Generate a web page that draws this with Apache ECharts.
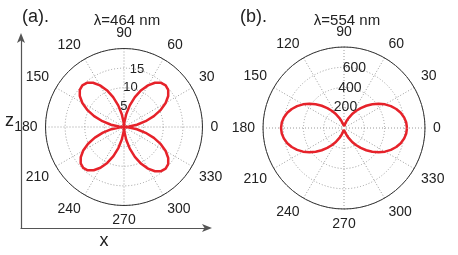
<!DOCTYPE html>
<html>
<head>
<meta charset="utf-8">
<script src="https://cdn.jsdelivr.net/npm/echarts@6/dist/echarts.min.js"></script>
<style>
  html, body { margin: 0; padding: 0; background: #fff; }
  #chart { width: 458px; height: 255px; }
</style>
</head>
<body>
<div id="chart"></div>
<script>
// polar angle in degrees, every 5
const angles = [
  0, 5, 10, 15, 20, 25, 30, 35, 40, 45, 50, 55, 60, 65, 70, 75, 80, 85, 90,
  95, 100, 105, 110, 115, 120, 125, 130, 135, 140, 145, 150, 155, 160, 165, 170, 175, 180,
  185, 190, 195, 200, 205, 210, 215, 220, 225, 230, 235, 240, 245, 250, 255, 260, 265, 270,
  275, 280, 285, 290, 295, 300, 305, 310, 315, 320, 325, 330, 335, 340, 345, 350, 355, 360
]
// (a) lambda = 464 nm, four lobes
const lobes464 = [
  0, 1.3, 3.35, 5.7, 8.1, 10.35, 12.25, 13.75, 14.7, 15, 14.7, 13.75, 12.25, 10.35, 8.1, 5.7, 3.35, 1.3, 0,
  1.3, 3.35, 5.7, 8.1, 10.35, 12.25, 13.75, 14.7, 15, 14.7, 13.75, 12.25, 10.35, 8.1, 5.7, 3.35, 1.3, 0,
  1.25, 3.25, 5.55, 7.9, 10.1, 12, 13.45, 14.4, 14.7, 14.4, 13.45, 12, 10.1, 7.9, 5.55, 3.25, 1.25, 0,
  1.3, 3.35, 5.7, 8.1, 10.35, 12.25, 13.75, 14.7, 15, 14.7, 13.75, 12.25, 10.35, 8.1, 5.7, 3.35, 1.3, 0
]
// (b) lambda = 554 nm, two lobes
const lobes554 = [
  622, 617, 603, 580, 549, 511, 467, 417, 365, 311, 257, 205, 156, 111, 73, 42, 19, 5, 0,
  5, 19, 42, 73, 111, 156, 205, 257, 311, 365, 417, 467, 511, 549, 580, 603, 617, 622,
  617, 603, 580, 549, 511, 467, 417, 365, 311, 257, 205, 156, 111, 73, 42, 19, 5, 0,
  5, 19, 42, 73, 111, 156, 205, 257, 311, 365, 417, 467, 511, 549, 580, 603, 617, 622
]
const radiusMaxA = 20
const radiusStepA = 5
const radiusMaxB = 800
const radiusStepB = 200

const textColor = '#222'
const gridColor = '#9a9a9a'
const red = '#e6222a'

function mainAngle(polarIndex) {
  return {
    polarIndex: polarIndex,
    type: 'value',
    min: 0,
    max: 360,
    interval: 30,
    startAngle: 0,
    clockwise: false,
    axisLine: { lineStyle: { color: '#333', width: 1 } },
    axisTick: { show: false },
    axisLabel: {
      margin: 8,
      align: 'center',
      verticalAlign: 'middle',
      fontSize: 14,
      color: textColor,
      formatter: v => (v === 360 ? '' : String(v)),
    },
    splitLine: { lineStyle: { color: gridColor, type: [1, 2], width: 1 } },
  }
}
function mainRadius(polarIndex, max, step) {
  return {
    polarIndex: polarIndex,
    type: 'value',
    min: 0,
    max: max,
    interval: step,
    axisLine: { show: false },
    axisTick: { show: false },
    axisLabel: { show: false },
    splitLine: { lineStyle: { color: gridColor, type: [1, 2], width: 1 } },
  }
}
// extra polar only for the ring labels, turned to a slanted ray
function labelAngle(polarIndex, ang) {
  return { polarIndex: polarIndex, type: 'value', min: 0, max: 360, startAngle: ang, show: false }
}
function labelRadius(polarIndex, max, step, margin, size) {
  return {
    polarIndex: polarIndex,
    type: 'value',
    min: 0,
    max: max,
    interval: step,
    axisLine: { show: false },
    axisTick: { show: false },
    splitLine: { show: false },
    axisLabel: {
      margin: margin,
      align: 'center',
      verticalAlign: 'middle',
      fontSize: size,
      color: textColor,
      formatter: v => (v > 0 && v < max ? String(v) : ''),
    },
  }
}

let myChart = echarts.init(document.getElementById('chart'))
myChart.setOption({
  animation: false,
  textStyle: { fontFamily: 'Liberation Sans' },
  title: [
    { text: '(a).', left: 17, top: 3, textStyle: { fontSize: 18, fontWeight: 'normal', color: textColor } },
    { text: 'λ=464 nm', left: 122, top: 8, textAlign: 'center', textStyle: { fontSize: 15, fontWeight: 'normal', color: textColor } },
    { text: '(b).', left: 235, top: 3, textStyle: { fontSize: 18, fontWeight: 'normal', color: textColor } },
    { text: 'λ=554 nm', left: 342, top: 8, textAlign: 'center', textStyle: { fontSize: 15, fontWeight: 'normal', color: textColor } },
  ],
  grid: { left: 21, top: 37, width: 187, height: 199 },
  xAxis: {
    type: 'value',
    min: 0,
    max: 1,
    axisLine: { onZero: false, symbol: ['none', 'arrow'], symbolSize: [6, 10], symbolOffset: [0, 4], lineStyle: { color: '#555', width: 1.2 } },
    axisTick: { show: false },
    axisLabel: { show: false },
    splitLine: { show: false },
    name: 'x',
    nameLocation: 'middle',
    nameGap: 4,
    nameTextStyle: { fontSize: 18, color: textColor, padding: [0, 21, 0, 0] },
  },
  yAxis: {
    type: 'value',
    min: 0,
    max: 1,
    axisLine: { onZero: false, symbol: ['none', 'arrow'], symbolSize: [6, 10], symbolOffset: [0, 4], lineStyle: { color: '#555', width: 1.2 } },
    axisTick: { show: false },
    axisLabel: { show: false },
    splitLine: { show: false },
    name: 'z',
    nameLocation: 'middle',
    nameGap: 7,
    nameRotate: 0,
    nameTextStyle: { fontSize: 18, color: textColor, verticalAlign: 'bottom', padding: [0, 0, 2, 0] },
  },
  polar: [
    { center: [124, 127], radius: 78.5 },
    { center: [124, 127], radius: 78.5 },
    { center: [344, 128], radius: 81 },
    { center: [344, 128], radius: 81 },
  ],
  angleAxis: [mainAngle(0), labelAngle(1, 70.5), mainAngle(2), labelAngle(3, 77.4)],
  radiusAxis: [
    mainRadius(0, radiusMaxA, radiusStepA),
    labelRadius(1, radiusMaxA, radiusStepA, 7, 13),
    mainRadius(2, radiusMaxB, radiusStepB),
    labelRadius(3, radiusMaxB, radiusStepB, 3, 14),
  ],
  series: [
    {
      type: 'line',
      coordinateSystem: 'polar',
      polarIndex: 0,
      symbol: 'none',
      lineStyle: { color: red, width: 2.5 },
      data: angles.map((a, i) => [lobes464[i], a]),
    },
    {
      type: 'line',
      coordinateSystem: 'polar',
      polarIndex: 2,
      symbol: 'none',
      lineStyle: { color: red, width: 2.5 },
      data: angles.map((a, i) => [lobes554[i], a]),
    },
  ],
})
</script>
</body>
</html>
